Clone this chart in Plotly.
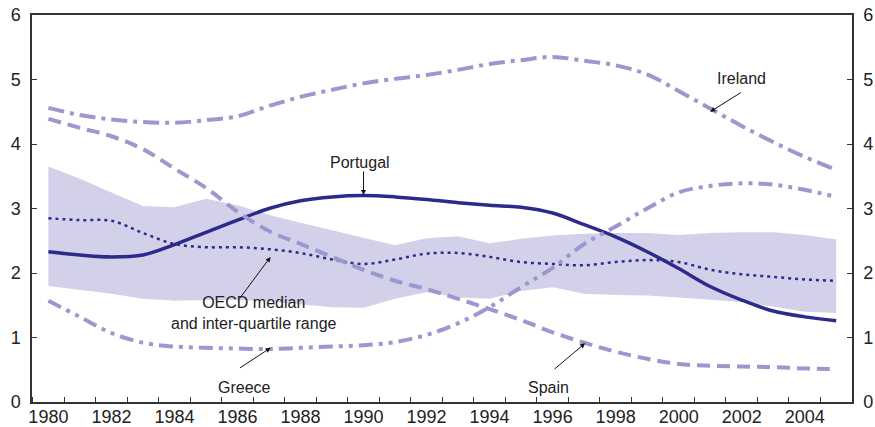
"""Real long-term interest rates: Portugal vs selected OECD countries."""
import plotly.graph_objects as go

years = list(range(1980, 2006))

ireland = [4.56, 4.45, 4.38, 4.34, 4.33, 4.37, 4.43, 4.59, 4.73, 4.84, 4.94, 5.01, 5.07,
           5.15, 5.24, 5.30, 5.35, 5.29, 5.22, 5.08, 4.82, 4.55, 4.28, 4.03, 3.80, 3.60]
spain = [4.39, 4.25, 4.12, 3.92, 3.62, 3.32, 2.95, 2.65, 2.45, 2.25, 2.05, 1.88, 1.75,
         1.60, 1.44, 1.27, 1.08, 0.92, 0.78, 0.67, 0.59, 0.56, 0.55, 0.54, 0.52, 0.51]
greece = [1.57, 1.32, 1.07, 0.92, 0.86, 0.84, 0.83, 0.82, 0.84, 0.86, 0.88, 0.93, 1.04,
          1.22, 1.47, 1.78, 2.08, 2.45, 2.72, 3.00, 3.25, 3.35, 3.39, 3.37, 3.29, 3.18]
portugal = [2.33, 2.28, 2.25, 2.28, 2.44, 2.63, 2.82, 3.00, 3.12, 3.18, 3.20, 3.18, 3.14,
            3.09, 3.05, 3.02, 2.93, 2.75, 2.56, 2.33, 2.07, 1.79, 1.58, 1.41, 1.32, 1.26]
oecd_median = [2.85, 2.82, 2.81, 2.62, 2.45, 2.40, 2.40, 2.37, 2.31, 2.21, 2.14, 2.21, 2.30,
               2.31, 2.25, 2.17, 2.14, 2.12, 2.17, 2.20, 2.17, 2.05, 1.98, 1.94, 1.90, 1.88]
oecd_q1 = [1.80, 1.74, 1.68, 1.60, 1.57, 1.58, 1.58, 1.56, 1.51, 1.47, 1.46, 1.60, 1.70,
           1.62, 1.60, 1.72, 1.78, 1.68, 1.66, 1.65, 1.62, 1.58, 1.55, 1.48, 1.40, 1.38]
oecd_q3 = [3.65, 3.46, 3.25, 3.04, 3.02, 3.15, 3.05, 2.90, 2.78, 2.66, 2.54, 2.43, 2.54,
           2.57, 2.46, 2.53, 2.58, 2.61, 2.62, 2.62, 2.59, 2.62, 2.63, 2.63, 2.59, 2.52]

label_years = list(range(1980, 2006, 2))

LIGHT = "#9c97cf"
NAVY = "#2c2b8c"
BAND = "#d3d1ea"
TEXT = "#222222"
AXIS = "#333333"
FONT = "Liberation Sans, Arial, sans-serif"

fig = go.Figure()

# inter-quartile band
fig.add_trace(go.Scatter(x=years, y=oecd_q1, mode="lines", line=dict(width=0, color=BAND),
                         hoverinfo="skip", showlegend=False))
fig.add_trace(go.Scatter(x=years, y=oecd_q3, mode="lines", line=dict(width=0, color=BAND),
                         fill="tonexty", fillcolor=BAND, hoverinfo="skip", showlegend=False))

fig.add_trace(go.Scatter(x=years, y=oecd_median, mode="lines", name="OECD median",
                         line=dict(color=NAVY, width=2.5, dash="3px,4px", shape="spline")))
fig.add_trace(go.Scatter(x=years, y=portugal, mode="lines", name="Portugal",
                         line=dict(color=NAVY, width=3.5, shape="spline")))
fig.add_trace(go.Scatter(x=years, y=spain, mode="lines", name="Spain",
                         line=dict(color=LIGHT, width=4, dash="13px,7px", shape="spline")))
fig.add_trace(go.Scatter(x=years, y=greece, mode="lines", name="Greece",
                         line=dict(color=LIGHT, width=4, dash="14px,6px,4px,6px,4px,6px",
                                   shape="spline")))
fig.add_trace(go.Scatter(x=years, y=ireland, mode="lines", name="Ireland",
                         line=dict(color=LIGHT, width=4, dash="16px,6px,4px,6px", shape="spline")))
# carrier for the right-hand axis
fig.add_trace(go.Scatter(x=years, y=portugal, yaxis="y2", mode="lines",
                         line=dict(width=0), opacity=0, hoverinfo="skip", showlegend=False))

# arrows (tip on the line, tail offset in pixels)
arrows = [
    (1990.0, 3.21, 0, -25),
    (2001.0, 4.50, 32, -20),
    (1987.05, 2.25, -32, 43),
    (1987.05, 0.84, -32, 21),
    (1997.03, 0.91, -32, 27),
]
for tip_x, tip_y, dx, dy in arrows:
    fig.add_annotation(x=tip_x, y=tip_y, ax=dx, ay=dy, text="", showarrow=True,
                       arrowhead=2, arrowsize=1, arrowwidth=1, arrowcolor="#111111")

labels = [
    ("Portugal", 1989.9, 3.72),
    ("Ireland", 2001.98, 5.01),
    ("OECD median<br>and inter-quartile range", 1986.54, 1.38),
    ("Greece", 1986.22, 0.22),
    ("Spain", 1995.86, 0.22),
]
for txt, lx, ly in labels:
    fig.add_annotation(x=lx, y=ly, text=txt, showarrow=False,
                       font=dict(size=16, color=TEXT, family=FONT))

axis_common = dict(range=[0, 6], dtick=1, ticks="inside", ticklen=5, tickcolor=AXIS,
                   showline=True, linecolor=AXIS, linewidth=1.5, showgrid=False,
                   zeroline=False, tickfont=dict(size=18, color=TEXT, family=FONT),
                   ticklabelstandoff=6, automargin=False, fixedrange=True)

fig.update_layout(
    width=875, height=427,
    margin=dict(l=32, r=23, t=15, b=25),
    plot_bgcolor="white", paper_bgcolor="white",
    showlegend=False,
    font=dict(family=FONT, color=TEXT),
    xaxis=dict(range=[1979.48, 2005.5], tickvals=label_years, ticks="",
               minor=dict(tick0=1979.5, dtick=1, ticks="inside", ticklen=5, tickcolor=AXIS),
               showline=True, mirror=True, linecolor=AXIS, linewidth=1.5,
               showgrid=False, zeroline=False, automargin=False, ticklabelstandoff=-2,
               tickfont=dict(size=18, color=TEXT, family=FONT), fixedrange=True),
    yaxis=dict(**axis_common),
    yaxis2=dict(**axis_common, overlaying="y", side="right"),
)

# page body has a default margin; drop it so the figure sits at the window origin
fig.write_html("out.html", config={"displayModeBar": False},
               post_script="document.body.style.margin='0';")
